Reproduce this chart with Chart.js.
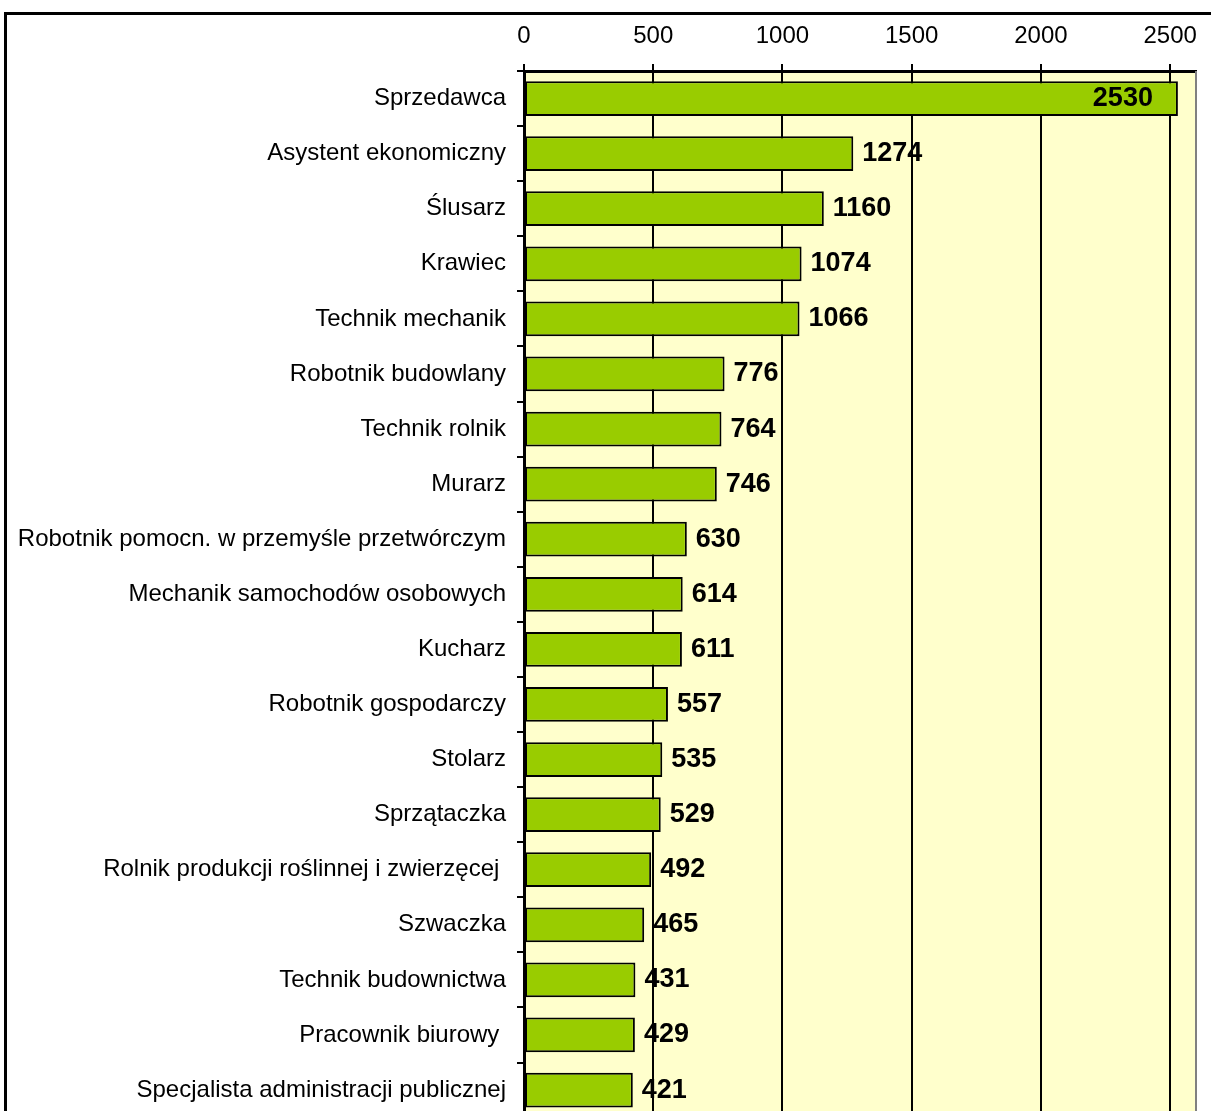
<!DOCTYPE html>
<html>
<head>
<meta charset="utf-8">
<script src="https://cdn.jsdelivr.net/npm/chart.js@4"></script>
<style>
  html, body { margin: 0; padding: 0; background: #fff; overflow: hidden; }
  #chart { position: absolute; left: 0; top: 0; }
</style>
</head>
<body>
<canvas id="chart" width="1211" height="1143"></canvas>
<script>
const occupations = [
  "Sprzedawca",
  "Asystent ekonomiczny",
  "Ślusarz",
  "Krawiec",
  "Technik mechanik",
  "Robotnik budowlany",
  "Technik rolnik",
  "Murarz",
  "Robotnik pomocn. w przemyśle przetwórczym",
  "Mechanik samochodów osobowych",
  "Kucharz",
  "Robotnik gospodarczy",
  "Stolarz",
  "Sprzątaczka",
  "Rolnik produkcji roślinnej i zwierzęcej ",
  "Szwaczka",
  "Technik budownictwa",
  "Pracownik biurowy ",
  "Specjalista administracji publicznej"
];
const counts = [2530, 1274, 1160, 1074, 1066, 776, 764, 746, 630, 614, 611, 557, 535, 529, 492, 465, 431, 429, 421];
const xTicks = [0, 500, 1000, 1500, 2000, 2500];
const axisMax = 2600;

Chart.defaults.font.family = "'Liberation Sans', Arial, sans-serif";
Chart.defaults.color = "#000";

// plot background, outer frame and grey right edge
const framePlugin = {
  id: "frame",
  beforeDraw(chart) {
    const { ctx, chartArea: a } = chart;
    ctx.save();
    ctx.fillStyle = "#FFFFCC";
    ctx.fillRect(a.left, a.top, a.right - a.left, a.bottom - a.top);
    ctx.strokeStyle = "#000";
    ctx.lineWidth = 3;
    ctx.beginPath();
    ctx.moveTo(1215, 13.5);
    ctx.lineTo(5.5, 13.5);
    ctx.lineTo(5.5, 1200);
    ctx.stroke();
    ctx.restore();
  },
  afterDraw(chart) {
    const { ctx, chartArea: a } = chart;
    ctx.save();
    ctx.strokeStyle = "#808080";
    ctx.lineWidth = 2;
    ctx.beginPath();
    ctx.moveTo(a.right, a.top);
    ctx.lineTo(a.right, a.bottom);
    ctx.stroke();
    ctx.restore();
  }
};

// value labels at bar ends, inside when no room
const valueLabels = {
  id: "valueLabels",
  afterDatasetsDraw(chart) {
    const { ctx, chartArea } = chart;
    const meta = chart.getDatasetMeta(0);
    ctx.save();
    ctx.font = "bold 27px 'Liberation Sans', Arial, sans-serif";
    ctx.fillStyle = "#000";
    ctx.textBaseline = "middle";
    meta.data.forEach((bar, i) => {
      const txt = String(counts[i]);
      const w = ctx.measureText(txt).width;
      if (bar.x + 9 + w > chartArea.right) {
        ctx.textAlign = "right";
        ctx.fillText(txt, bar.x - 25, bar.y);
      } else {
        ctx.textAlign = "left";
        ctx.fillText(txt, bar.x + 9, bar.y);
      }
    });
    ctx.restore();
  }
};

new Chart(document.getElementById("chart"), {
  type: "bar",
  data: {
    labels: occupations,
    datasets: [{
      data: counts,
      backgroundColor: "#99CC00",
      borderColor: "#000",
      borderWidth: 2,
      borderSkipped: false,
      barPercentage: 0.63,
      categoryPercentage: 1
    }]
  },
  options: {
    indexAxis: "y",
    responsive: false,
    animation: false,
    layout: { padding: { top: 0, right: 15, bottom: 2, left: 0 } },
    plugins: {
      legend: { display: false },
      title: { display: false },
      tooltip: { enabled: false }
    },
    scales: {
      x: {
        position: "top",
        min: 0,
        max: axisMax,
        afterFit: s => { s.height = 71; },
        afterBuildTicks: s => { s.ticks = xTicks.map(v => ({ value: v })); },
        ticks: {
          font: { size: 24 },
          color: "#000",
          padding: 13,
          maxRotation: 0,
          callback: v => String(v)
        },
        grid: { color: "#000", lineWidth: 2, tickLength: 7 },
        border: { color: "#000", width: 3 }
      },
      y: {
        afterFit: s => { s.width = 524; },
        ticks: { font: { size: 24 }, color: "#000", padding: 11, autoSkip: false },
        grid: { drawOnChartArea: false, offset: true, color: "#000", lineWidth: 2, tickLength: 7 },
        border: { color: "#000", width: 3 }
      }
    }
  },
  plugins: [framePlugin, valueLabels]
});
</script>
</body>
</html>
